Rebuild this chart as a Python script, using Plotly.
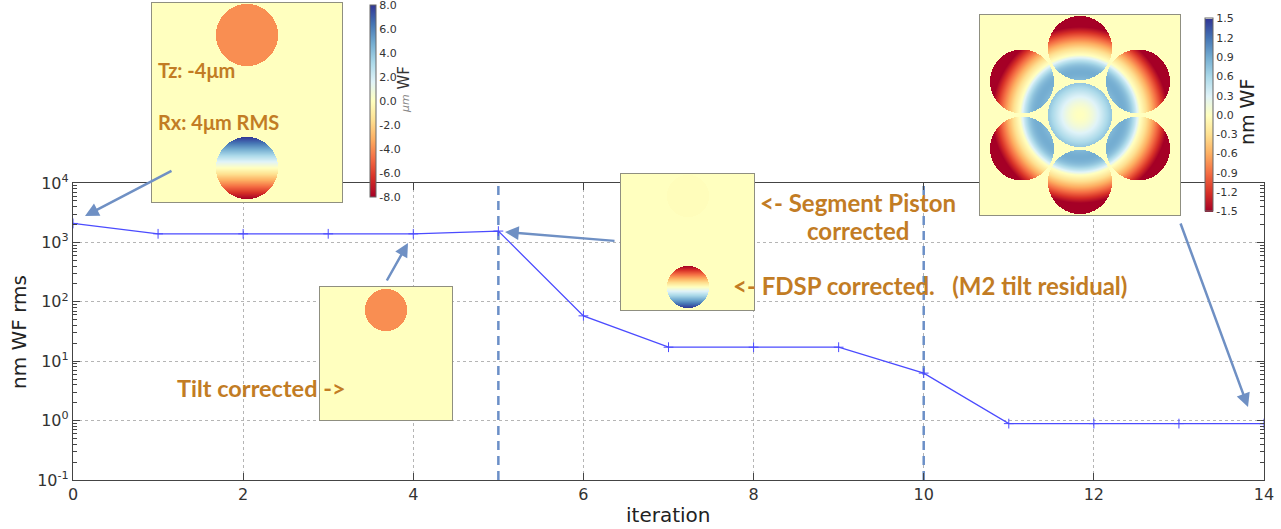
import numpy as np
import plotly.graph_objects as go

# ---------------- data ----------------
iterations = list(range(15))
rms_nm = [2085, 1395, 1395, 1395, 1395, 1550, 58, 17.2, 17.2, 17.2, 6.3, 0.89, 0.89, 0.89, 0.89]
phase_boundaries = [5, 10]
x_tick_vals = [0, 2, 4, 6, 8, 10, 12, 14]
y_tick_vals = [0.1, 1, 10, 100, 1000, 10000]
y_tick_text = ["10<sup>-1</sup>", "10<sup>0</sup>", "10<sup>1</sup>", "10<sup>2</sup>", "10<sup>3</sup>", "10<sup>4</sup>"]
cb_um_vals = [8, 6, 4, 2, 0, -2, -4, -6, -8]
cb_um_text = ["8.0", "6.0", "4.0", "2.0", "0.0", "-2.0", "-4.0", "-6.0", "-8.0"]
cb_nm_vals = [1.5, 1.2, 0.9, 0.6, 0.3, 0.0, -0.3, -0.6, -0.9, -1.2, -1.5]
cb_nm_text = ["1.5", "1.2", "0.9", "0.6", "0.3", "0.0", "-0.3", "-0.6", "-0.9", "-1.2", "-1.5"]

# inset wavefront parameters
tz_piston_um = -4.0
rx_tilt_peak_um = 8.0
residual_piston = -0.015
m2_tilt_peak = 1.0

# ---------------- helpers ----------------
FW, FH = 1281, 529
def px(x):
    return x / FW
def py(y):
    return (FH - y) / FH

RDYLBU = ["#a50026", "#d73027", "#f46d43", "#fdae61", "#fee090", "#ffffbf",
          "#e0f3f8", "#abd9e9", "#74add1", "#4575b4", "#313695"]
CSCALE = [[i / 10, c] for i, c in enumerate(RDYLBU)]

def grid(w, h):
    xs = np.arange(w) + 0.5
    ys = np.arange(h) + 0.5
    X, Y = np.meshgrid(xs, ys)
    return xs, ys, X, Y

def disk(X, Y, cx, cy, r):
    return (X - cx) ** 2 + (Y - cy) ** 2 <= r ** 2

# inset 1 : initial misalignment
w1, h1 = 190, 199
xs1, ys1, X1, Y1 = grid(w1, h1)
Z1 = np.zeros_like(X1)
m = disk(X1, Y1, 95, 167, 31)
Z1[m] = tz_piston_um
m = disk(X1, Y1, 95, 34, 31)
Z1[m] = rx_tilt_peak_um * (Y1[m] - 34) / 31

# inset 2 : tilt corrected
w2, h2 = 132, 133
xs2, ys2, X2, Y2 = grid(w2, h2)
Z2 = np.zeros_like(X2)
Z2[disk(X2, Y2, 66, 110, 21)] = tz_piston_um

# inset 3 : segment piston corrected / FDSP
w3, h3 = 133, 136
xs3, ys3, X3, Y3 = grid(w3, h3)
Z3 = np.zeros_like(X3)
Z3[disk(X3, Y3, 67, 114, 21)] = residual_piston
m = disk(X3, Y3, 67, 23, 21)
Z3[m] = -m2_tilt_peak * (Y3[m] - 23) / 21

# inset 4 : final residual on 7 segments
w4, h4 = 200, 200
xs4, ys4, X4, Y4 = grid(w4, h4)
Z4 = np.zeros_like(X4)
rho = np.hypot(X4 - 100, Y4 - 100) / 100
inner = 10 * rho ** 2 * (1 - rho ** 2 / 0.36)
outer = -1.5 * ((rho - 0.6) / 0.28) ** 1.1
radial = np.where(rho < 0.6, inner, outer)
seg_mask = disk(X4, Y4, 100, 100, 32)
for k in range(6):
    ang = np.deg2rad(90 + 60 * k)
    seg_mask |= disk(X4, Y4, 100 + 67 * np.cos(ang), 100 + 67 * np.sin(ang), 32)
Z4[seg_mask] = np.clip(radial[seg_mask], -1.5, 1.5)

# ---------------- figure ----------------
fig = go.Figure()

LINE_BLUE = "#4b4bff"
PHASE_BLUE = "#6b8fc7"

for xb in phase_boundaries:
    fig.add_trace(go.Scatter(x=[xb, xb], y=[0.1, 10000], mode="lines",
                             line=dict(color=PHASE_BLUE, width=2.5, dash="9px,6px"),
                             hoverinfo="skip", showlegend=False, xaxis="x", yaxis="y"))

fig.add_trace(go.Scatter(x=iterations, y=rms_nm, mode="lines+markers",
                         line=dict(color=LINE_BLUE, width=1.3),
                         marker=dict(symbol="cross-thin", size=7, line=dict(color=LINE_BLUE, width=1)),
                         showlegend=False, xaxis="x", yaxis="y"))

cb_common = dict(xanchor="left", xpad=0, ypad=0, yanchor="middle", lenmode="fraction",
                 thicknessmode="pixels", outlinewidth=1, outlinecolor="#666",
                 ticks="", ticklabeloverflow="allow",
                 tickfont=dict(size=11, color="#333", family="DejaVu Sans"))

fig.add_trace(go.Heatmap(x=xs1, y=ys1, z=np.round(Z1, 3), zmin=-8.001, zmax=8.001, colorscale=CSCALE,
                         xaxis="x2", yaxis="y2", hoverinfo="skip",
                         colorbar=dict(x=px(370), y=py(101), len=192 / FH, thickness=6,
                                       tickvals=cb_um_vals, ticktext=cb_um_text, **cb_common)))
fig.add_trace(go.Heatmap(x=xs2, y=ys2, z=np.round(Z2, 3), zmin=-8, zmax=8, colorscale=CSCALE,
                         xaxis="x3", yaxis="y3", hoverinfo="skip", showscale=False))
fig.add_trace(go.Heatmap(x=xs3, y=ys3, z=np.round(Z3, 3), zmin=-1, zmax=1, colorscale=CSCALE,
                         xaxis="x4", yaxis="y4", hoverinfo="skip", showscale=False))
fig.add_trace(go.Heatmap(x=xs4, y=ys4, z=np.round(Z4, 3), zmin=-1.5001, zmax=1.5001, colorscale=CSCALE,
                         xaxis="x5", yaxis="y5", hoverinfo="skip",
                         colorbar=dict(x=px(1205), y=py(115), len=193 / FH, thickness=8,
                                       tickvals=cb_nm_vals, ticktext=cb_nm_text, **cb_common)))

AX_COLOR = "#444"
axis_font = dict(family="DejaVu Sans", size=16, color="#333")
layout = dict(
    width=FW, height=FH, margin=dict(l=0, r=0, t=0, b=0),
    paper_bgcolor="white", plot_bgcolor="white", showlegend=False,
    xaxis=dict(domain=[px(73), px(1264)], range=[0, 14], tickvals=x_tick_vals,
               ticks="inside", ticklen=7, tickcolor=AX_COLOR, showline=True, linecolor=AX_COLOR,
               linewidth=1.3, mirror="allticks", showgrid=True, gridcolor="#b5b5b5",
               griddash="dot", gridwidth=1, zeroline=False, tickfont=axis_font, automargin=False),
    yaxis=dict(domain=[py(480), py(183)], type="log", range=[-1, 4], tickvals=y_tick_vals,
               ticktext=y_tick_text, ticks="inside", ticklen=7, tickcolor=AX_COLOR,
               showline=True, linecolor=AX_COLOR, linewidth=1.3, mirror="allticks",
               showgrid=True, gridcolor="#b5b5b5", griddash="dot", gridwidth=1,
               zeroline=False, tickfont=axis_font, automargin=False,
               minor=dict(tickvals=[m * 10.0 ** e for e in range(-1, 4) for m in range(2, 10)],
                          ticks="inside", ticklen=4, tickcolor=AX_COLOR, showgrid=False)),
)

insets = [
    (2, (152, 342), (3, 202), w1, h1),
    (3, (320, 452), (287, 420), w2, h2),
    (4, (621, 754), (174, 310), w3, h3),
    (5, (980, 1180), (15, 215), w4, h4),
]
for k, (x0, x1), (y0, y1), w, h in insets:
    common = dict(showline=True, mirror=True, linecolor="#8f8f80", linewidth=1.2,
                  showgrid=False, zeroline=False, showticklabels=False, ticks="", fixedrange=True)
    layout[f"xaxis{k}"] = dict(domain=[px(x0), px(x1)], range=[0, w], anchor=f"y{k}", **common)
    layout[f"yaxis{k}"] = dict(domain=[py(y1), py(y0)], range=[0, h], anchor=f"x{k}", **common)

fig.update_layout(**layout)

def label(text, x, y, size, xanchor="left"):
    fig.add_annotation(text=f"<b>{text}</b>", x=px(x), y=py(y), xref="paper", yref="paper",
                       xanchor=xanchor, yanchor="middle", showarrow=False,
                       font=dict(family="Lato", size=size, color="#c27c24"))

label("Tz: -4μm", 156, 70, 20)
label("Rx: 4μm RMS", 156, 122, 20)
label("Tilt corrected -&gt;", 175, 388, 23.5)
label("&lt;- Segment Piston", 758, 202, 24)
label("corrected", 858, 230, 24, xanchor="center")
label("&lt;- FDSP corrected.&nbsp;&nbsp;&nbsp;(M2 tilt residual)", 731, 285, 24)

ARROW = "#6f90c4"
for (hx, hy), (tx, ty) in [((85, 216), (173, 170)), ((408, 243), (386, 282)),
                           ((505, 232), (616, 241)), ((1248, 407), (1180, 222))]:
    fig.add_annotation(x=px(hx), y=py(hy), xref="paper", yref="paper", ax=tx - hx, ay=ty - hy,
                       showarrow=True, arrowhead=2, arrowsize=1.1, arrowwidth=2.5,
                       arrowcolor=ARROW, text="")

# axis titles
fig.add_annotation(text="nm WF rms", x=px(19), y=py(332), xref="paper", yref="paper",
                   xanchor="center", yanchor="middle", textangle=-90, showarrow=False,
                   font=dict(family="DejaVu Sans", size=20, color="#222"))
fig.add_annotation(text="iteration", x=px(668), y=py(515), xref="paper", yref="paper",
                   xanchor="center", yanchor="middle", showarrow=False,
                   font=dict(family="DejaVu Sans", size=20, color="#222"))
# colorbar titles
fig.add_annotation(text="<span style='font-size:11px;color:#888'><i>μm</i></span> WF",
                   x=px(404), y=py(90), xref="paper", yref="paper", textangle=-90,
                   xanchor="center", yanchor="middle", showarrow=False,
                   font=dict(family="DejaVu Sans", size=15, color="#333"))
fig.add_annotation(text="nm WF", x=px(1247), y=py(112), xref="paper", yref="paper",
                   xanchor="center", yanchor="middle", textangle=-90, showarrow=False,
                   font=dict(family="DejaVu Sans", size=19, color="#222"))

fig.write_html("out.html", config={"displayModeBar": False},
               post_script="document.body.style.margin='0';document.body.style.overflow='hidden';")
